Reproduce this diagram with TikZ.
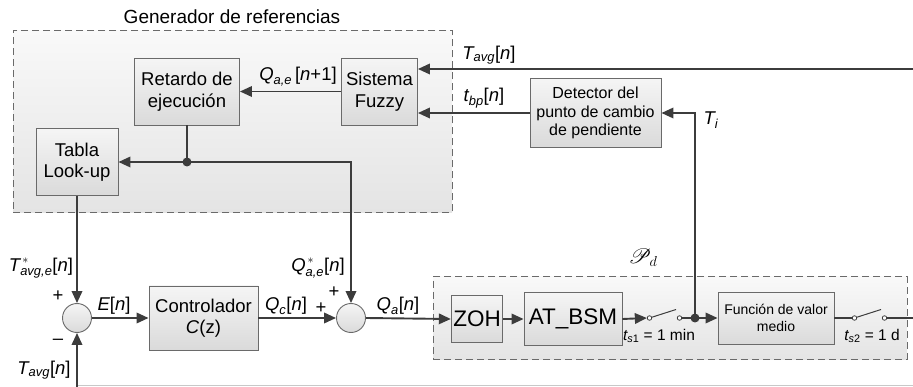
\documentclass[tikz,border=0pt]{standalone}
\usepackage{fontspec}
\setmainfont{Liberation Sans}
\usepackage{amsmath}
\usepackage{mathrsfs}
\usetikzlibrary{arrows.meta}

\definecolor{lnc}{HTML}{3C3C3C}
\definecolor{bdc}{HTML}{6A6A6A}
\definecolor{boxtop}{HTML}{F5F5F5}
\definecolor{boxbot}{HTML}{DADADA}
\definecolor{grptop}{HTML}{F9F9F9}
\definecolor{grpbot}{HTML}{E4E4E4}
\definecolor{faint}{HTML}{C8C8C8}

% variable with subscript and index, e.g. T_avg[n]
\newcommand{\sig}[3]{$\textit{#1}_{\textit{#2}}\text{[}\textit{#3}\text{]}$}
\newcommand{\sigstar}[3]{$\textit{#1}^{\,*}_{\textit{#2}}\text{[}\textit{#3}\text{]}$}

\begin{document}
\begin{tikzpicture}[x=1pt,y=-1pt,
  blk/.style={draw=bdc, line width=0.9pt, top color=boxtop, bottom color=boxbot,
    align=center, inner sep=2pt, font=\fontsize{18.5}{21.5}\selectfont},
  group/.style={draw=bdc, line width=1pt, dash pattern=on 7pt off 4pt,
    top color=grptop, bottom color=grpbot, inner sep=0pt},
  sumnode/.style={circle, draw=bdc, line width=0.9pt, top color=boxtop,
    bottom color=boxbot, minimum size=29pt, inner sep=0pt},
  dot/.style={circle, fill=lnc, minimum size=9pt, inner sep=0pt},
  swc/.style={circle, draw=lnc, fill=white, line width=0.8pt, minimum size=4.5pt, inner sep=0pt},
  conn/.style={draw=lnc, line width=1.9pt},
  arr/.style={conn, -{Triangle[length=12pt,width=10.5pt]}},
  lbl/.style={inner sep=0pt, font=\fontsize{18.5}{21}\selectfont},
  sml/.style={inner sep=0pt, font=\fontsize{15.5}{18}\selectfont},
]
\useasboundingbox (0,0) rectangle (913,387);

% ---- reference generator group
\node[group, minimum width=439pt, minimum height=182pt] (gen) at (232.5,121.5) {};
\node[inner sep=0pt, font=\fontsize{19}{22}\selectfont] (gentitle) at (232,17) {Generador de referencias};

\node[blk, minimum width=105pt, minimum height=67pt] (ret) at (187,91.5) {Retardo de\\ejecución};
\node[blk, minimum width=76pt, minimum height=67pt] (fuz) at (379.5,91.5) {Sistema\\Fuzzy};
\node[blk, minimum width=82pt, minimum height=67pt] (tab) at (77,162) {Tabla\\Look-up};
\node[dot] (jR) at (187,162) {};

% ---- slope change detector
\node[blk, minimum width=131pt, minimum height=69pt, font=\fontsize{16}{18.5}\selectfont] (det) at (595.5,113) {Detector del\\punto de cambio\\de pendiente};

% ---- control loop
\node[sumnode] (sum1) at (77,318) {};
\node[blk, minimum width=109pt, minimum height=64pt] (ctl) at (203.5,318) {Controlador\\\textit{C}(z)};
\node[sumnode] (sum2) at (351,318) {};

% ---- plant group
\node[group, minimum width=474pt, minimum height=82pt] (plant) at (670,318) {};
\node[blk, minimum width=50pt, minimum height=47pt, font=\fontsize{22.5}{25}\selectfont] (zoh) at (477,319) {ZOH};
\node[blk, minimum width=98pt, minimum height=53pt, font=\fontsize{22.5}{25}\selectfont] (atb) at (573,319) {AT\_BSM};
\node[swc] (sw1a) at (649.5,318) {};
\node[swc] (sw1b) at (679.5,318) {};
\coordinate (lev1) at (676,309.5);
\node[dot] (jT) at (695,318) {};
\node[blk, minimum width=116pt, minimum height=52pt, font=\fontsize{14}{17}\selectfont] (fvm) at (776,318) {Función de valor\\medio};
\node[swc] (sw2a) at (854.5,318) {};
\node[swc] (sw2b) at (884.5,318) {};
\coordinate (lev2) at (881,309.5);

% ---- free ends
\coordinate (tavgin) at (913,69);
\coordinate (outR) at (913,318);
\coordinate (fbB) at (77,387);
\coordinate (fbBR) at (913,385.5);
\coordinate (fbBL) at (77,385.5);

% ---- connectors
\draw[arr] (tavgin) -- (tavgin -| fuz.east);
\draw[arr] (det.west) -- (det.west -| fuz.east);
\draw[arr] (fuz.west) -- (ret.east);
\draw[conn] (ret.south) -- (jR.center);
\draw[arr] (jR.center) -- (tab.east);
\draw[arr] (jR.center) -| (sum2.north);
\draw[arr] (tab.south) -- (sum1.north);
\draw[faint, line width=1.4pt] (fbBL) -- (fbBR);
\draw[arr] (fbB) -- (sum1.south);
\draw[arr] (sum1.east) -- (ctl.west);
\draw[arr] (ctl.east) -- (sum2.west);
\draw[arr] (sum2.east) -- (zoh.west);
\draw[arr] (zoh.east) -- (atb.west);
\draw[arr] (atb.east) -- (sw1a.west);
\draw[lnc, line width=1pt] (sw1a) -- (lev1);
\draw[conn] (sw1b.east) -- (jT.center);
\draw[arr] (jT.center) -- (fvm.west);
\draw[arr] (jT.center) |- (det.east);
\draw[conn] (fvm.east) -- (sw2a.west);
\draw[lnc, line width=1pt] (sw2a) -- (lev2);
\draw[conn] (sw2b.east) -- (outR);

% ---- labels
\node[lbl] (lQn1) at (298,77) {$\textit{Q}_{\textit{a,e}}\,\text{[}\textit{n}\text{+1]}$};
\node[lbl] (lTtop) at (489,55) {\sig{T}{avg}{n}};
\node[lbl] (ltbp) at (484,98) {\sig{t}{bp}{n}};
\node[lbl] (lTi) at (711,120) {$\textit{T}_{\textit{i}}$};
\node[lbl] (lTref) at (41,268) {\sigstar{T}{avg,e}{n}};
\node[lbl] (lp1) at (58,296) {+};
\node[lbl] (lm1) at (58,342) {–};
\node[lbl] (lTbot) at (44,370) {\sig{T}{avg}{n}};
\node[lbl] (lE) at (114,306) {$\textit{E}\text{[}\textit{n}\text{]}$};
\node[lbl] (lQc) at (286,306) {\sig{Q}{c}{n}};
\node[lbl] (lp2) at (321,308) {+};
\node[lbl] (lp3) at (334,292) {+};
\node[lbl] (lQref) at (318,268) {\sigstar{Q}{a,e}{n}};
\node[lbl] (lQa) at (398,306) {\sig{Q}{a}{n}};
\node[inner sep=0pt, font=\fontsize{21}{23}\selectfont] (lPd) at (643,258) {$\mathscr{P}_{d}$};
\node[sml] (lts1) at (659,336) {$\textit{t}_{\textit{s}\text{1}}$ = 1 min};
\node[sml] (lts2) at (872,336) {$\textit{t}_{\textit{s}\text{2}}$ = 1 d};
\end{tikzpicture}
\end{document}
